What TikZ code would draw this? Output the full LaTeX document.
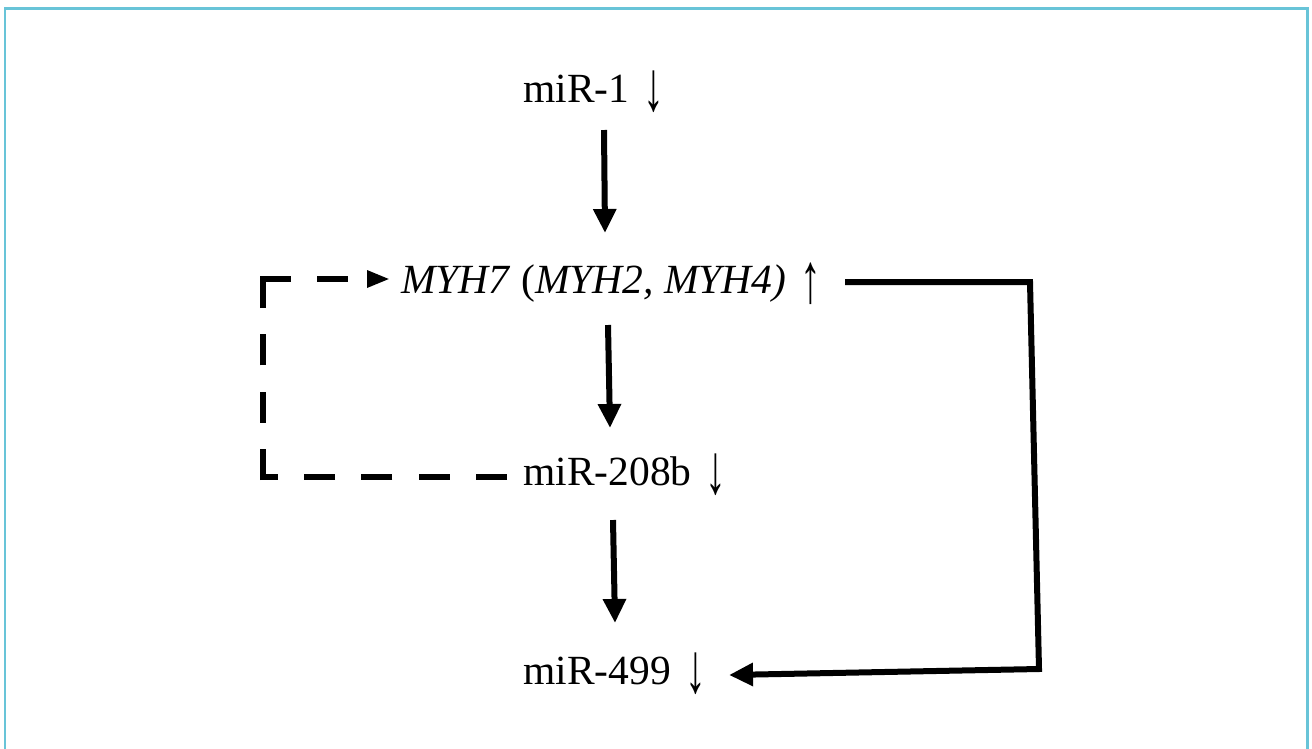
\documentclass[tikz,border=0pt]{standalone}
\usepackage{fontspec}
\usepackage{graphicx}
\setmainfont{Liberation Serif}
\usetikzlibrary{arrows.meta}
\definecolor{framecol}{RGB}{104,196,216}
\newcommand{\myDn}{\hspace{4pt}\raisebox{-8pt}{\scalebox{1}[1.7]{↓}}}
\newcommand{\myUp}{\hspace{4pt}\raisebox{-9pt}{\scalebox{1}[1.7]{↑}}}
\begin{document}
\begin{tikzpicture}[x=1pt,y=-1pt,
  lbl/.style={anchor=base west, inner sep=0pt, font=\fontsize{41.5}{48}\selectfont},
  solidarr/.style={line width=6pt, line join=miter, -{Triangle[length=24pt,width=22pt]}},
  dasharr/.style={line width=6pt, dash pattern=on 31pt off 26.33pt, -{Triangle[length=23pt,width=16pt]}},
  framestyle/.style={draw=framecol, line width=2.5pt}]
\useasboundingbox (0,0) rectangle (1312,748);
\draw[framestyle] (5,770) -- (5,8.5) -- (1307.5,8.5) -- (1307.5,770);

% labels
\node[lbl] (m1) at (523,102) {miR-1 \myDn};
\node[lbl] (myh) at (401,293) {\textit{MYH7} (\textit{MYH2, MYH4)} \myUp};
\node[lbl] (m208) at (523,485) {miR-208b \myDn};
\node[lbl] (m499) at (523,684) {miR-499 \myDn};

% connector end points
\coordinate (m1out) at (604,130);
\coordinate (myhin) at (605,233);
\coordinate (myhout) at (608,325);
\coordinate (m208in) at (610,428);
\coordinate (m208out) at (613,520);
\coordinate (m499in) at (615,623);

\coordinate (myhright) at (845,282);
\coordinate (rc1) at (1030,282);
\coordinate (rc2) at (1039,669);
\coordinate (m499right) at (729,675);

\coordinate (m208left) at (507,477);
\coordinate (dc1) at (260,477);
\coordinate (dc1b) at (263,480);
\coordinate (dc2) at (263,276);
\coordinate (dc2b) at (260,279);
\coordinate (dc3) at (350,279);
\coordinate (tipbase) at (367,279);
\coordinate (myhleft) at (390,279);

% solid connectors
\draw[solidarr] (m1out) -- (myhin);
\draw[solidarr] (myhout) -- (m208in);
\draw[solidarr] (m208out) -- (m499in);
\draw[solidarr] (myhright) -- (rc1) -- (rc2) -- (m499right);

% dashed feedback connector
\draw[dasharr] (m208left) -- (dc1) (dc1b) -- (dc2) (dc2b) -- (dc3) (tipbase) -- (myhleft);
\end{tikzpicture}
\end{document}
